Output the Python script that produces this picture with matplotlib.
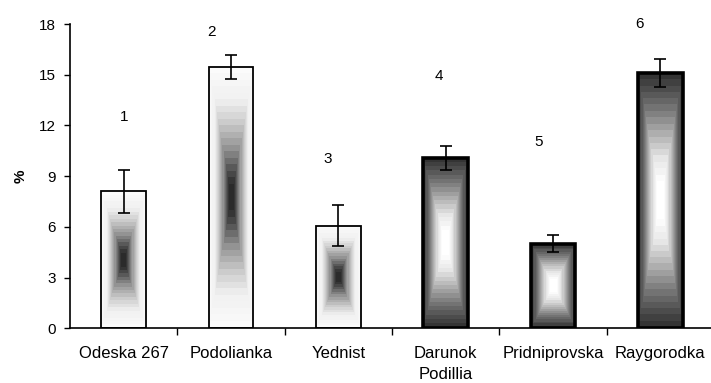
import numpy as np
import matplotlib
matplotlib.use("Agg")
import matplotlib.pyplot as plt

plt.rcParams['font.family'] = ['Liberation Sans', 'DejaVu Sans']

categories = ["Odeska 267", "Podolianka", "Yednist", "Darunok\nPodillia", "Pridniprovska", "Raygorodka"]
values = [8.1, 15.45, 6.08, 10.08, 5.0, 15.1]
errors = [1.27, 0.70, 1.20, 0.73, 0.50, 0.82]
numbers = ["1", "2", "3", "4", "5", "6"]
number_y = [12.5, 17.5, 10.0, 14.9, 11.0, 18.0]
number_dx = [0.0, -0.18, -0.10, -0.06, -0.13, -0.19]
yticks = [0, 3, 6, 9, 12, 15, 18]

fig = plt.figure(figsize=(7.11, 3.83), dpi=100)
ax = fig.add_axes([70/711, (383-328.3)/383, 644/711, (328.3-24)/383])

x = np.arange(len(categories))
bars = ax.bar(x, values, width=0.415, facecolor='none', edgecolor='black', zorder=3)

n = 301
u = np.linspace(-1, 1, n)
U, V = np.meshgrid(u, u)
T = np.maximum(np.abs(U), np.abs(V))
T = np.floor(T * 20) / 20
grad_dark_center = np.interp(T, [0.0, 0.07, 0.2, 0.35, 0.55, 0.72, 1.0],
                             [0.17, 0.17, 0.35, 0.58, 0.8, 0.94, 0.99])
grad_light_center = np.interp(T, [0.0, 0.12, 0.3, 0.5, 0.7, 0.9, 1.0],
                              [1.0, 1.0, 0.9, 0.68, 0.45, 0.25, 0.17])

for i, patch in enumerate(bars.patches):
    x0, y0 = patch.get_x(), patch.get_y()
    w, h = patch.get_width(), patch.get_height()
    img = grad_dark_center if i < 3 else grad_light_center
    im = ax.imshow(img, cmap='gray', vmin=0, vmax=1, extent=(x0, x0 + w, y0, y0 + h),
                   aspect='auto', interpolation='nearest', zorder=2, origin='lower')
    im.set_clip_path(patch)
    patch.set_linewidth(1.3 if i < 3 else 2.6)

ax.errorbar(x, values, yerr=errors, fmt='none', ecolor='black', elinewidth=1.2,
            capsize=4, capthick=1.2, zorder=4)

for i in range(len(categories)):
    ax.text(x[i] + number_dx[i], number_y[i], numbers[i], ha='center', va='center', fontsize=11)

ax.set_xlim(-0.5, 5.5)
ax.set_ylim(0, 18)
ax.set_yticks(yticks)
ax.set_yticklabels([str(t) for t in yticks], fontsize=11)
ax.set_xticks(x)
ax.set_xticklabels(categories, fontsize=12, linespacing=1.45)
ax.set_xticks(np.arange(0.5, 5.5, 1.0), minor=True)
ax.tick_params(axis='x', which='major', length=0, pad=13)
ax.tick_params(axis='x', which='minor', length=5, width=1, direction='out')
ax.tick_params(axis='y', length=4, width=1, direction='out', pad=6)
ax.set_ylabel('%', fontsize=11, fontweight='bold', labelpad=8)

for s in ['top', 'right']:
    ax.spines[s].set_visible(False)
for s in ['left', 'bottom']:
    ax.spines[s].set_linewidth(1.2)

fig.savefig('out.png', dpi=100)
